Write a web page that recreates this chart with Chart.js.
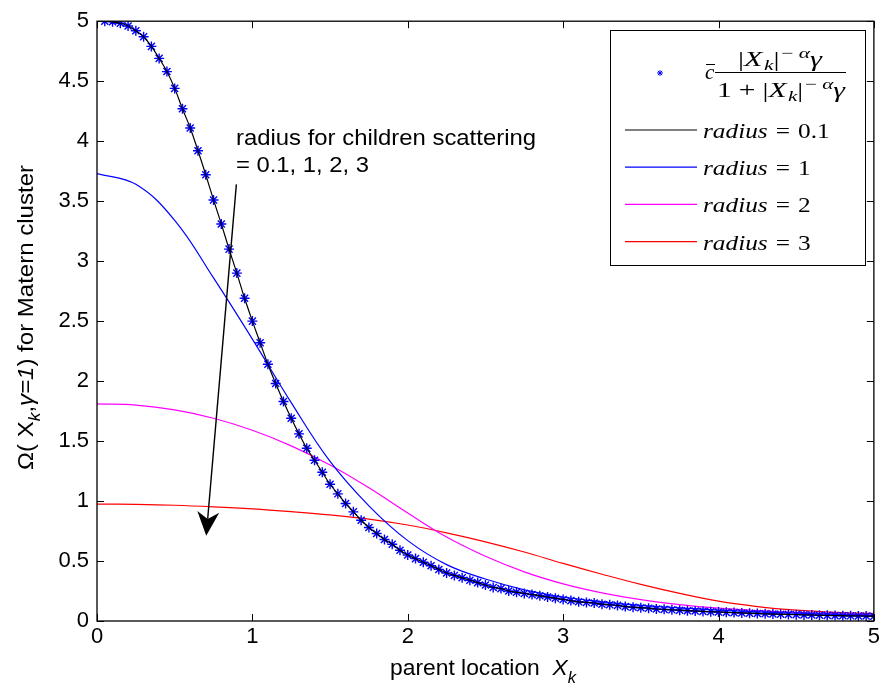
<!DOCTYPE html>
<html>
<head>
<meta charset="utf-8">
<script src="https://cdn.jsdelivr.net/npm/chart.js@4.4.1/dist/chart.umd.min.js"></script>
<style>
  html, body { margin: 0; padding: 0; background: #fff; }
  canvas { display: block; }
</style>
</head>
<body>
<canvas id="chart" width="883" height="697"></canvas>
<script>
// kernel evaluated every 0.05 (stars)
const kernelX = Array.from({ length: 100 }, (_, i) => +((i + 1) * 0.05).toFixed(2));
const kernelY = [
  5.00, 4.995, 4.983, 4.96, 4.92, 4.87, 4.79, 4.69, 4.58, 4.44,
  4.27, 4.11, 3.92, 3.72, 3.51, 3.31, 3.10, 2.90, 2.69, 2.50,
  2.32, 2.14, 1.98, 1.83, 1.69, 1.56, 1.44, 1.34, 1.24, 1.14,
  1.06, 0.98, 0.91, 0.84, 0.78, 0.73, 0.68, 0.64, 0.59, 0.55,
  0.52, 0.49, 0.46, 0.43, 0.40, 0.38, 0.36, 0.34, 0.32, 0.30,
  0.28, 0.27, 0.25, 0.24, 0.23, 0.22, 0.21, 0.20, 0.19, 0.18,
  0.17, 0.16, 0.155, 0.15, 0.14, 0.135, 0.13, 0.12, 0.115, 0.11,
  0.107, 0.10, 0.097, 0.093, 0.09, 0.086, 0.083, 0.08, 0.077, 0.075,
  0.072, 0.07, 0.067, 0.065, 0.063, 0.06, 0.058, 0.056, 0.055, 0.053,
  0.051, 0.05, 0.048, 0.047, 0.045, 0.044, 0.043, 0.042, 0.041, 0.04
];

// radius = 0.1 curve (same grid, plus the origin)
const radius01X = [0].concat(kernelX);
const radius01Y = [5.00].concat(kernelY);

// wider radii sampled every 0.25
const curveX = Array.from({ length: 21 }, (_, i) => i * 0.25);
const radius1Y = [3.73, 3.64, 3.34, 2.86, 2.35, 1.82, 1.33, 0.96, 0.67, 0.47, 0.35,
                  0.26, 0.20, 0.16, 0.13, 0.11, 0.09, 0.076, 0.065, 0.055, 0.047];
const radius2Y = [1.81, 1.80, 1.76, 1.69, 1.59, 1.46, 1.30, 1.11, 0.90, 0.70, 0.54,
                  0.41, 0.31, 0.235, 0.178, 0.137, 0.107, 0.087, 0.072, 0.06, 0.05];
const radius3Y = [0.975, 0.972, 0.965, 0.952, 0.935, 0.912, 0.885, 0.85, 0.80, 0.735, 0.66,
                  0.575, 0.48, 0.39, 0.305, 0.23, 0.165, 0.12, 0.09, 0.072, 0.062];

const xTicks = [0, 1, 2, 3, 4, 5];
const yTicks = [0, 0.5, 1, 1.5, 2, 2.5, 3, 3.5, 4, 4.5, 5];
const radiusLabels = ['0.1', '1', '2', '3'];
const radiusColors = ['#000000', '#0000ff', '#ff00ff', '#ff0000'];

// arrow from the note down through the curves (data units)
const arrowFrom = { x: 0.897, y: 3.64 };
const arrowTo = { x: 0.703, y: 0.71 };

const SANS = 'Arial, "Liberation Sans", Helvetica, sans-serif';
const SERIF = '"Liberation Serif", "Times New Roman", serif';
const font = (size, style, fam) => `${style || ''} ${size}px ${fam || SANS}`.trim();

const pts = (xs, ys) => xs.map((x, i) => ({ x, y: ys[i] }));

function runWidth(ctx, parts) {
  let w = 0;
  for (const p of parts) {
    ctx.font = p.font;
    w += ctx.measureText(p.t).width + (p.gap || 0);
  }
  return w;
}

// draws a run of text pieces, optionally squeezed/stretched to a width
function drawRun(ctx, parts, x, y, width) {
  const natural = runWidth(ctx, parts);
  const sx = width ? width / natural : 1;
  ctx.save();
  ctx.translate(x, y);
  ctx.scale(sx, 1);
  let cx = 0;
  for (const p of parts) {
    ctx.font = p.font;
    ctx.fillText(p.t, cx, p.dy || 0);
    cx += ctx.measureText(p.t).width + (p.gap || 0);
  }
  ctx.restore();
}

function star(ctx, x, y, r) {
  const d = r * Math.SQRT1_2;
  ctx.beginPath();
  ctx.moveTo(x - r, y); ctx.lineTo(x + r, y);
  ctx.moveTo(x, y - r); ctx.lineTo(x, y + r);
  ctx.moveTo(x - d, y - d); ctx.lineTo(x + d, y + d);
  ctx.moveTo(x - d, y + d); ctx.lineTo(x + d, y - d);
  ctx.stroke();
}

const decorations = {
  id: 'decorations',
  afterDatasetsDraw(chart) {
    const { ctx, chartArea: a, scales: { x, y } } = chart;
    ctx.save();

    // box and inward ticks on all four sides
    ctx.strokeStyle = '#000';
    ctx.lineWidth = 1.3;
    ctx.strokeRect(a.left, a.top, a.right - a.left, a.bottom - a.top);
    ctx.lineWidth = 1;
    ctx.beginPath();
    xTicks.forEach(v => {
      const px = Math.round(x.getPixelForValue(v)) + 0.5;
      ctx.moveTo(px, a.bottom); ctx.lineTo(px, a.bottom - 7);
      ctx.moveTo(px, a.top); ctx.lineTo(px, a.top + 7);
    });
    yTicks.forEach(v => {
      const py = Math.round(y.getPixelForValue(v)) + 0.5;
      ctx.moveTo(a.left, py); ctx.lineTo(a.left + 7, py);
      ctx.moveTo(a.right, py); ctx.lineTo(a.right - 7, py);
    });
    ctx.stroke();

    // note and arrow
    ctx.fillStyle = '#000';
    ctx.textBaseline = 'alphabetic';
    drawRun(ctx, [{ t: 'radius for children scattering', font: font(22) }], 236, 145, 300);
    drawRun(ctx, [{ t: '= 0.1, 1, 2, 3', font: font(22) }], 236, 172, 133);

    const x0 = x.getPixelForValue(arrowFrom.x), y0 = y.getPixelForValue(arrowFrom.y);
    const x1 = x.getPixelForValue(arrowTo.x), y1 = y.getPixelForValue(arrowTo.y);
    const len = Math.hypot(x1 - x0, y1 - y0);
    const ux = (x1 - x0) / len, uy = (y1 - y0) / len;
    const nx = -uy, ny = ux;
    const L = 24, W = 11, notch = 17;
    ctx.lineWidth = 1.4;
    ctx.beginPath();
    ctx.moveTo(x0, y0);
    ctx.lineTo(x1 - ux * notch, y1 - uy * notch);
    ctx.stroke();
    ctx.beginPath();
    ctx.moveTo(x1, y1);
    ctx.lineTo(x1 - ux * L + nx * W, y1 - uy * L + ny * W);
    ctx.lineTo(x1 - ux * notch, y1 - uy * notch);
    ctx.lineTo(x1 - ux * L - nx * W, y1 - uy * L - ny * W);
    ctx.closePath();
    ctx.fill();

    // axis titles
    drawRun(ctx, [
      { t: 'parent location  ', font: font(22) },
      { t: 'X', font: font(22, 'italic') },
      { t: 'k', font: font(16, 'italic'), dy: 8 }
    ], 390, 675, 186);

    ctx.save();
    ctx.translate(33, 470);
    ctx.rotate(-Math.PI / 2);
    drawRun(ctx, [
      { t: 'Ω( X', font: font(22) },
      { t: 'k', font: font(16, 'italic'), dy: 7 },
      { t: ',', font: font(22) },
      { t: 'γ=1', font: font(22, 'italic') },
      { t: ') for Matern cluster', font: font(22) }
    ], 0, 0, 305);
    ctx.restore();

    // legend
    const lx = 610, ly = 30, lw = 255, lh = 235;
    ctx.fillStyle = '#fff';
    ctx.fillRect(lx, ly, lw, lh);
    ctx.strokeStyle = '#000';
    ctx.lineWidth = 1;
    ctx.strokeRect(lx + 0.5, ly + 0.5, lw, lh);

    ctx.strokeStyle = '#0000ff';
    ctx.lineWidth = 1;
    star(ctx, 660, 73, 3);

    ctx.fillStyle = '#000';
    ctx.strokeStyle = '#000';
    const it = font(21, 'italic', SERIF), up = font(21, '', SERIF);
    const itS = font(15, 'italic', SERIF), upS = font(15, '', SERIF);
    drawRun(ctx, [{ t: 'c', font: it }], 705, 79);
    ctx.beginPath();
    ctx.moveTo(706, 64.5); ctx.lineTo(715, 64.5);
    ctx.moveTo(715, 72.5); ctx.lineTo(846, 72.5);
    ctx.stroke();
    const absPow = [
      { t: '|', font: up },
      { t: 'X', font: it, gap: 1 },
      { t: 'k', font: itS, dy: 4 },
      { t: '|', font: up, gap: 1 },
      { t: '−', font: upS, dy: -8, gap: 4 },
      { t: 'α', font: itS, dy: -8 },
      { t: 'γ', font: it }
    ];
    drawRun(ctx, absPow, 738, 66, 84);
    drawRun(ctx, [{ t: '1', font: up, gap: 5 }, { t: '+', font: up, gap: 5 }].concat(absPow), 717, 97, 128);

    const itL = font(22, 'italic', SERIF), upL = font(22, '', SERIF);
    radiusLabels.forEach((lab, i) => {
      const yy = 130 + i * 37.2;
      ctx.strokeStyle = radiusColors[i];
      ctx.lineWidth = 1.2;
      ctx.beginPath();
      ctx.moveTo(625, yy); ctx.lineTo(697, yy);
      ctx.stroke();
      ctx.fillStyle = '#000';
      const parts = [
        { t: 'radius', font: itL, gap: 7 },
        { t: '=', font: upL, gap: 7 },
        { t: lab, font: upL }
      ];
      ctx.save();
      ctx.translate(703, yy + 8);
      ctx.scale(1.15, 1);
      drawRun(ctx, parts, 0, 0);
      ctx.restore();
    });

    ctx.restore();
  }
};

const lineSet = (label, xs, ys, color, order) => ({
  label,
  data: pts(xs, ys),
  showLine: true,
  borderColor: color,
  borderWidth: 1.2,
  pointRadius: 0,
  tension: 0.4,
  fill: false,
  order
});

new Chart(document.getElementById('chart').getContext('2d'), {
  type: 'scatter',
  data: {
    datasets: [
      lineSet('radius = 0.1', radius01X, radius01Y, radiusColors[0], 0),
      {
        label: 'kernel',
        data: pts(kernelX, kernelY),
        showLine: false,
        pointStyle: 'star',
        pointRadius: 5,
        borderWidth: 1.4,
        borderColor: '#0000ff',
        backgroundColor: '#0000ff',
        order: 1
      },
      lineSet('radius = 1', curveX, radius1Y, radiusColors[1], 2),
      lineSet('radius = 2', curveX, radius2Y, radiusColors[2], 3),
      lineSet('radius = 3', curveX, radius3Y, radiusColors[3], 4)
    ]
  },
  options: {
    responsive: false,
    animation: false,
    layout: { padding: { left: 0, top: 15, right: 6, bottom: 0 } },
    plugins: { legend: { display: false }, tooltip: { enabled: false } },
    scales: {
      x: {
        type: 'linear',
        min: 0,
        max: 5,
        grid: { display: false, drawTicks: false },
        border: { display: false },
        ticks: {
          stepSize: 1,
          autoSkip: false,
          maxRotation: 0,
          padding: 3,
          color: '#000',
          font: { family: SANS, size: 22 },
          callback: v => String(v)
        },
        afterFit: s => { s.height = 76; }
      },
      y: {
        type: 'linear',
        min: 0,
        max: 5,
        grid: { display: false, drawTicks: false },
        border: { display: false },
        ticks: {
          stepSize: 0.5,
          autoSkip: false,
          padding: 8,
          color: '#000',
          font: { family: SANS, size: 22 },
          callback: v => String(v)
        },
        afterFit: s => { s.width = 97; }
      }
    }
  },
  plugins: [decorations]
});
</script>
</body>
</html>
